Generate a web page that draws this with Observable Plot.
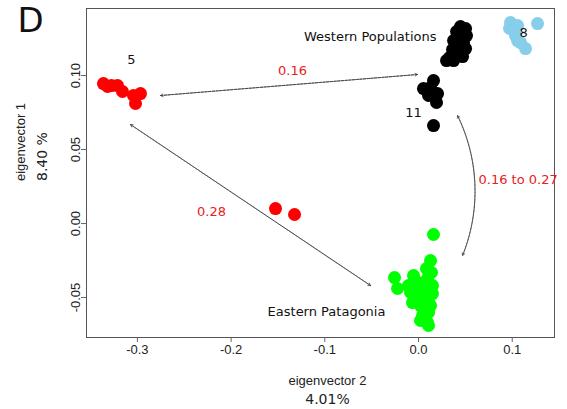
<!DOCTYPE html>
<html>
<head>
<meta charset="utf-8">
<script src="https://cdn.jsdelivr.net/npm/d3@7"></script>
<script src="https://cdn.jsdelivr.net/npm/@observablehq/plot@0.6"></script>
<style>
  html, body { margin: 0; padding: 0; background: #fff; }
</style>
</head>
<body>
<div id="chart"></div>
<script>
// ---- data (eigenvector 2 = x, eigenvector 1 = y) ----
const redX = [-0.3362, -0.3319, -0.3276, -0.3212, -0.3159, -0.3042, -0.2967, -0.3020, -0.1526, -0.1323];
const redY = [0.0946, 0.0926, 0.0932, 0.0932, 0.0892, 0.0865, 0.0878, 0.0811, 0.0101, 0.0061];

const blackX = [0.0448, 0.0502, 0.0406, 0.0512, 0.0438, 0.0374, 0.0480, 0.0416, 0.0502, 0.0363, 0.0448, 0.0395, 0.0470, 0.0331, 0.0374, 0.0299,
                0.0160, 0.0053, 0.0128, 0.0203, 0.0107, 0.0192, 0.0160];
const blackY = [0.1331, 0.1318, 0.1297, 0.1270, 0.1264, 0.1236, 0.1223, 0.1203, 0.1182, 0.1176, 0.1155, 0.1142, 0.1128, 0.1122, 0.1101, 0.1101,
                0.0966, 0.0912, 0.0919, 0.0878, 0.0865, 0.0818, 0.0662];

const blueX = [0.0982, 0.0971, 0.1270, 0.1057, 0.1035, 0.1089, 0.1142, 0.1057];
const blueY = [0.1358, 0.1318, 0.1351, 0.1338, 0.1270, 0.1223, 0.1182, 0.1236];

const greenX = [0.0160, 0.0128, -0.0256, -0.0224, -0.0053, 0.0096, 0.0149, -0.0085, -0.0032, -0.0064, 0.0043, 0.0107, 0.0053, 0.0107, 0.0043, 0.0096, 0.0107, 0.0021, 0.0149,
                0.0000, 0.0075, 0.0000, 0.0128, 0.0075, -0.0107, 0.0085, 0.0139, 0.0021];
const greenY = [-0.0074, -0.0250, -0.0365, -0.0439, -0.0351, -0.0372, -0.0419, -0.0466, -0.0439, -0.0534, -0.0486, -0.0507, -0.0574, -0.0601, -0.0622, -0.0669, -0.0689, -0.0554, -0.0473,
                -0.0399, -0.0453, -0.0507, -0.0554, -0.0642, -0.0419, -0.0304, -0.0331, -0.0655];

const groupNames = ["red", "black", "blue", "green"];
const groupColors = ["#ff0000", "#000000", "#87ceeb", "#00ff00"];

// straight double-headed arrows
const arrowX1 = [-0.2753, -0.3074];
const arrowY1 = [0.0865, 0.0669];
const arrowX2 = [-0.0011, -0.0512];
const arrowY2 = [0.1007, -0.0419];
// curved double-headed arrow
const curveX1 = [0.0416];
const curveY1 = [0.0730];
const curveX2 = [0.0470];
const curveY2 = [-0.0216];

// annotation labels
const labelText = ["5", "11", "8", "Eastern Patagonia"];
const labelX = [-0.3063, -0.0053, 0.1121, -0.0982];
const labelY = [0.1108, 0.0750, 0.1291, -0.0595];
const westText = ["Western Populations"];
const westX = [0.0192];
const westY = [0.1264];

const distText = ["0.16", "0.28"];
const distX = [-0.1345, -0.2209];
const distY = [0.1034, 0.0081];
const rangeText = ["0.16 to 0.27"];
const rangeX = [0.0640];
const rangeY = [0.0297];

const xTicks = [-0.3, -0.2, -0.1, 0.0, 0.1];
const xTickLabels = ["-0.3", "-0.2", "-0.1", "0.0", "0.1"];
const yTicks = [-0.05, 0.00, 0.05, 0.10];
const yTickLabels = ["-0.05", "0.00", "0.05", "0.10"];

// ---- build tables ----
const points = [];
const gx = [redX, blackX, blueX, greenX], gy = [redY, blackY, blueY, greenY];
groupNames.forEach((g, i) => gx[i].forEach((x, j) => points.push({group: g, x, y: gy[i][j], color: groupColors[i]})));
const arrows = arrowX1.map((x1, i) => ({x1, y1: arrowY1[i], x2: arrowX2[i], y2: arrowY2[i]}));
const curves = curveX1.map((x1, i) => ({x1, y1: curveY1[i], x2: curveX2[i], y2: curveY2[i]}));
const labels = labelText.map((t, i) => ({t, x: labelX[i], y: labelY[i]}));
const west = westText.map((t, i) => ({t, x: westX[i], y: westY[i]}));
const dists = distText.map((t, i) => ({t, x: distX[i], y: distY[i]}));
const ranges = rangeText.map((t, i) => ({t, x: rangeX[i], y: rangeY[i]}));
const yTickData = yTicks.map((v, i) => ({v, t: yTickLabels[i]}));

const labelFont = "DejaVu Sans, sans-serif";
const arrowStyle = {stroke: "#333", strokeWidth: 0.7, strokeDasharray: "2.5,1.2", headLength: 6};
const redText = "#e8201c";

const chart = Plot.plot({
  width: 567,
  height: 409,
  marginLeft: 86,
  marginRight: 13,
  marginTop: 8,
  marginBottom: 72,
  x: {domain: [-0.3543, 0.1451]},
  y: {domain: [-0.077, 0.1453]},
  style: {fontFamily: "Liberation Sans, Arial, sans-serif", fontSize: "13px", background: "#fff", color: "#222"},
  marks: [
    Plot.frame({stroke: "#555", strokeWidth: 1}),
    Plot.axisX({ticks: xTicks, tickFormat: (d) => xTickLabels[xTicks.indexOf(d)], tickSize: 5, tickPadding: 2, stroke: "#666", label: null, fontSize: 13}),
    Plot.axisY({ticks: yTicks, tickFormat: () => "", tickSize: 5, stroke: "#666", label: null}),
    Plot.text(yTickData, {y: "v", text: "t", frameAnchor: "left", dx: -11, rotate: -90, textAnchor: "middle", lineAnchor: "middle", fontSize: 13, fill: "#222"}),
    // arrows (two passes to get heads at both ends)
    Plot.arrow(arrows, {x1: "x1", y1: "y1", x2: "x2", y2: "y2", ...arrowStyle}),
    Plot.arrow(arrows, {x1: "x2", y1: "y2", x2: "x1", y2: "y1", ...arrowStyle}),
    Plot.arrow(curves, {x1: "x1", y1: "y1", x2: "x2", y2: "y2", bend: 24, ...arrowStyle}),
    Plot.arrow(curves, {x1: "x2", y1: "y2", x2: "x1", y2: "y1", bend: -24, ...arrowStyle}),
    // points
    Plot.dot(points, {x: "x", y: "y", r: 6.5, fill: "color", stroke: "none"}),
    // labels
    Plot.text(labels, {x: "x", y: "y", text: "t", textAnchor: "middle", fontFamily: labelFont, fontSize: 13, fill: "#111"}),
    Plot.text(west, {x: "x", y: "y", text: "t", textAnchor: "end", fontFamily: labelFont, fontSize: 13, fill: "#111"}),
    Plot.text(dists, {x: "x", y: "y", text: "t", textAnchor: "middle", fontFamily: labelFont, fontSize: 13, fill: redText}),
    Plot.text(ranges, {x: "x", y: "y", text: "t", textAnchor: "start", fontFamily: labelFont, fontSize: 13, fill: redText}),
    // panel letter
    Plot.text(["D"], {frameAnchor: "top-left", dx: -56, dy: 13, fontSize: 34, fontFamily: labelFont, fill: "#111", lineAnchor: "middle", textAnchor: "middle"}),
    // axis titles
    Plot.text(["eigenvector 2"], {frameAnchor: "bottom", dx: 7, dy: 43, fontSize: 13, fill: "#222", lineAnchor: "middle"}),
    Plot.text(["4.01%"], {frameAnchor: "bottom", dx: 7, dy: 62, fontSize: 14, fontFamily: labelFont, fill: "#222", lineAnchor: "middle"}),
    Plot.text(["eigenvector 1"], {frameAnchor: "left", dx: -66, dy: 8, rotate: -90, fontSize: 13, fill: "#222", lineAnchor: "middle"}),
    Plot.text(["8.40 %"], {frameAnchor: "left", dx: -44, dy: 8, rotate: -90, fontSize: 14, fontFamily: labelFont, fill: "#222", lineAnchor: "middle"})
  ]
});
document.getElementById("chart").appendChild(chart);
</script>
</body>
</html>
